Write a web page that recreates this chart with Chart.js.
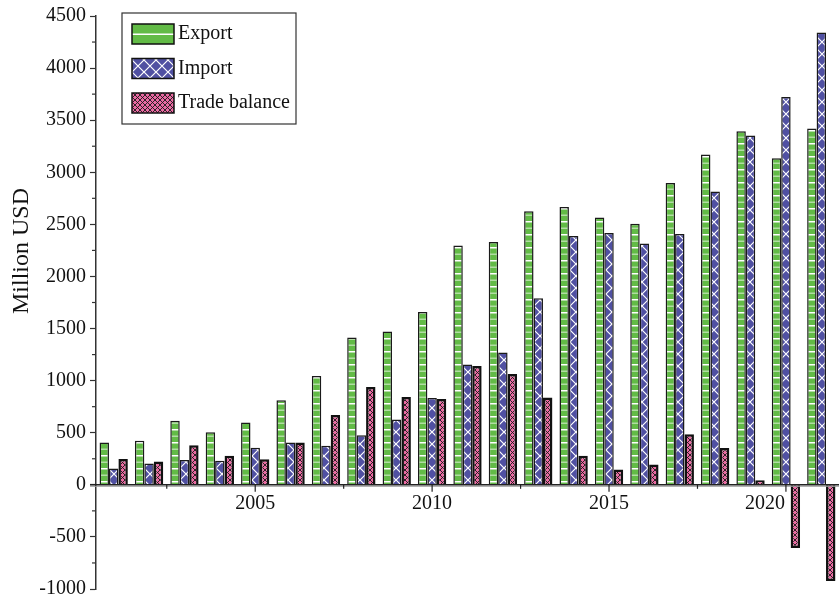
<!DOCTYPE html>
<html>
<head>
<meta charset="utf-8">
<script src="https://cdn.jsdelivr.net/npm/chart.js@4/dist/chart.umd.min.js"></script>
<style>
  html, body { margin: 0; padding: 0; background: #fff; }
  #wrap { width: 839px; height: 595px; }
</style>
</head>
<body>
<div id="wrap"><canvas id="tradeChart"></canvas></div>
<script>
const years = [2001, 2002, 2003, 2004, 2005, 2006, 2007, 2008, 2009, 2010, 2011,
  2012, 2013, 2014, 2015, 2016, 2017, 2018, 2019, 2020, 2021];
const exportValues = [405, 424, 616, 504, 597, 811, 1045, 1413, 1471, 1659, 2296,
  2331, 2626, 2667, 2565, 2507, 2897, 3170, 3394, 3134, 3420];
const importValues = [156, 204, 238, 232, 357, 405, 376, 475, 626, 833, 1154,
  1269, 1790, 2389, 2417, 2316, 2408, 2815, 3352, 3723, 4341];
const tradeBalance = [248, 223, 379, 280, 245, 405, 669, 939, 843, 824, 1141,
  1064, 837, 280, 146, 194, 485, 353, 43, -607, -923];
const labeledYears = [2005, 2010, 2015, 2020];
const minorYears = [2002.5, 2007.5, 2012.5, 2017.5];
const yMin = -1000;
const yMax = 4500;
const yStep = 500;

const FONT = "'Liberation Serif', 'Times New Roman', serif";
const GREEN = "#62bb46";
const BLUE = "#5050a2";
const PINK = "#ea6aa2";

function makePattern(w, h, draw) {
  const c = document.createElement("canvas");
  c.width = w;
  c.height = h;
  const ctx = c.getContext("2d");
  draw(ctx, w, h);
  return ctx.createPattern(c, "repeat");
}

// horizontal white stripes on green
const exportFill = makePattern(8, 13, (ctx, w, h) => {
  ctx.fillStyle = GREEN;
  ctx.fillRect(0, 0, w, h);
  ctx.fillStyle = "#ffffff";
  ctx.fillRect(0, 0, w, 1.5);
  ctx.fillStyle = "rgba(255,255,255,0.5)";
  ctx.fillRect(0, 6.5, w, 1.5);
});

// white diagonal cross hatch on blue
const importFill = makePattern(12, 12, (ctx, w, h) => {
  ctx.fillStyle = BLUE;
  ctx.fillRect(0, 0, w, h);
  ctx.strokeStyle = "#ffffff";
  ctx.lineWidth = 1.2;
  ctx.beginPath();
  ctx.moveTo(0, 0);
  ctx.lineTo(w, h);
  ctx.moveTo(w, 0);
  ctx.lineTo(0, h);
  ctx.stroke();
});

// fine black cross hatch on pink
const tradeFill = makePattern(5, 5, (ctx, w, h) => {
  ctx.fillStyle = PINK;
  ctx.fillRect(0, 0, w, h);
  ctx.strokeStyle = "#1a1a1a";
  ctx.lineWidth = 0.9;
  ctx.beginPath();
  ctx.moveTo(0, 0);
  ctx.lineTo(w, h);
  ctx.moveTo(w, 0);
  ctx.lineTo(0, h);
  ctx.stroke();
});

const axisExtras = {
  id: "axisExtras",
  afterDatasetsDraw(chart) {
    const { ctx, chartArea, scales: { x, y } } = chart;
    const y0 = y.getPixelForValue(0);
    const step = x.getPixelForValue(1) - x.getPixelForValue(0);
    const yearPx = (yr) => x.getPixelForValue(0) + (yr - years[0]) * step;

    ctx.save();
    // zero line
    ctx.strokeStyle = "#a0a0a0";
    ctx.lineWidth = 1;
    ctx.beginPath();
    ctx.moveTo(chartArea.left - 6, y0 + 1.5);
    ctx.lineTo(chartArea.right, y0 + 1.5);
    ctx.stroke();
    ctx.strokeStyle = "#222";
    ctx.lineWidth = 1.5;
    ctx.beginPath();
    ctx.moveTo(chartArea.left - 6, y0);
    ctx.lineTo(chartArea.right, y0);
    ctx.stroke();

    // year ticks and labels (label moved aside when a bar hangs below zero)
    ctx.lineWidth = 1.2;
    ctx.fillStyle = "#111";
    ctx.font = "20px " + FONT;
    ctx.textBaseline = "middle";
    labeledYears.forEach((yr) => {
      const px = yearPx(yr);
      ctx.beginPath();
      ctx.moveTo(px, y0);
      ctx.lineTo(px, y0 + 7);
      ctx.stroke();
      const below = tradeBalance[years.indexOf(yr)] < 0;
      ctx.textAlign = below ? "right" : "center";
      ctx.fillText(String(yr), below ? px - 1 : px, y0 + 19);
    });
    minorYears.forEach((yr) => {
      const px = yearPx(yr);
      ctx.beginPath();
      ctx.moveTo(px, y0);
      ctx.lineTo(px, y0 + 4);
      ctx.stroke();
    });

    // minor y ticks
    ctx.strokeStyle = "#333";
    for (let v = yMin + yStep / 2; v < yMax; v += yStep) {
      const py = y.getPixelForValue(v);
      ctx.beginPath();
      ctx.moveTo(chartArea.left - 4, py);
      ctx.lineTo(chartArea.left, py);
      ctx.stroke();
    }

    // y axis title
    ctx.save();
    ctx.font = "24px " + FONT;
    ctx.textAlign = "center";
    ctx.translate(22, 251);
    ctx.rotate(-Math.PI / 2);
    ctx.fillText("Million USD", 0, 0);
    ctx.restore();
    ctx.restore();
  },
};

const boxLegend = {
  id: "boxLegend",
  afterDraw(chart) {
    const { ctx } = chart;
    const rows = [
      { label: chart.data.datasets[0].label, fill: GREEN, stripe: true },
      { label: chart.data.datasets[1].label, fill: importFill },
      { label: chart.data.datasets[2].label, fill: tradeFill },
    ];
    const bx = 122, by = 13, bw = 174, bh = 111;
    ctx.save();
    ctx.fillStyle = "#fff";
    ctx.fillRect(bx, by, bw, bh);
    ctx.strokeStyle = "#333";
    ctx.lineWidth = 1.2;
    ctx.strokeRect(bx, by, bw, bh);
    ctx.font = "20px " + FONT;
    ctx.textBaseline = "middle";
    ctx.textAlign = "left";
    rows.forEach((r, i) => {
      const sy = 24 + i * 34.5;
      ctx.fillStyle = r.fill;
      ctx.fillRect(132, sy, 42, 20);
      if (r.stripe) {
        ctx.fillStyle = "#fff";
        ctx.fillRect(132, sy + 9.5, 42, 1.5);
      }
      ctx.strokeStyle = "#111";
      ctx.lineWidth = 1.5;
      ctx.strokeRect(132, sy, 42, 20);
      ctx.fillStyle = "#111";
      ctx.fillText(r.label, 178, sy + 10);
    });
    ctx.restore();
  },
};

new Chart(document.getElementById("tradeChart"), {
  type: "bar",
  data: {
    labels: years.map(String),
    datasets: [
      {
        label: "Export",
        data: exportValues,
        backgroundColor: exportFill,
        borderColor: "#1a1a1a",
        borderWidth: 1.5,
      },
      {
        label: "Import",
        data: importValues,
        backgroundColor: importFill,
        borderColor: "#1a1a1a",
        borderWidth: 1.5,
      },
      {
        label: "Trade balance",
        data: tradeBalance,
        backgroundColor: tradeFill,
        borderColor: "#111",
        borderWidth: 2.5,
      },
    ],
  },
  options: {
    responsive: true,
    maintainAspectRatio: false,
    animation: false,
    devicePixelRatio: 1,
    categoryPercentage: 0.8,
    barPercentage: 1.0,
    layout: { padding: { top: 16, right: 0, bottom: 6, left: 0 } },
    plugins: {
      legend: { display: false },
      tooltip: { enabled: false },
    },
    scales: {
      x: {
        type: "category",
        display: false,
        offset: true,
      },
      y: {
        min: yMin,
        max: yMax,
        ticks: {
          stepSize: yStep,
          color: "#111",
          font: { family: FONT, size: 20 },
          padding: 4,
          callback: (v) => String(v),
        },
        grid: {
          drawOnChartArea: false,
          tickLength: 6,
          color: "#333",
          tickWidth: 1.2,
        },
        border: { color: "#333", width: 1.5 },
        afterFit(scale) {
          scale.width = 96;
          scale.paddingTop = 0;
          scale.paddingBottom = 0;
        },
      },
    },
  },
  plugins: [axisExtras, boxLegend],
});
</script>
</body>
</html>
